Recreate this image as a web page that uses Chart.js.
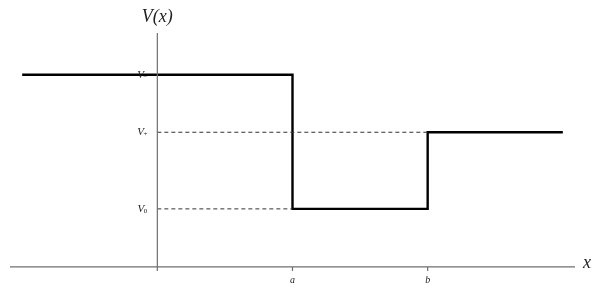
<!DOCTYPE html>
<html>
<head>
<meta charset="utf-8">
<script src="https://cdn.jsdelivr.net/npm/chart.js@4/dist/chart.umd.min.js"></script>
<style>
html,body{margin:0;padding:0;background:#fff;}
canvas{display:block;}
</style>
</head>
<body>
<canvas id="c" width="600" height="292"></canvas>
<script>
// ---- data ----
const regionEdges = [-1, 1, 2, 3];          // x: start, a, b, end
const regionLevels = [3.31, 1, 2.32];        // V-, V0, V+
const tickValues = [1, 2];
const tickLabels = ['a', 'b'];
const levelValues = [3.31, 2.32, 1];
const levelBase = ['V', 'V', 'V'];
const levelSubs = ['\u2212', '+', '0'];
const xRange = [-1.09, 3.09];
const yRange = [-0.07, 4.03];

// build step polyline
const stepPts = [];
for (let i = 0; i < regionLevels.length; i++) {
  stepPts.push({x: regionEdges[i], y: regionLevels[i]});
  stepPts.push({x: regionEdges[i + 1], y: regionLevels[i]});
}

const axisColor = '#6e6e6e';
const line = (pts, color, width, dash) => ({
  data: pts, showLine: true, borderColor: color, borderWidth: width,
  borderDash: dash || [], pointRadius: 0, fill: false, tension: 0
});

const datasets = [
  line([{x: xRange[0], y: 0}, {x: xRange[1], y: 0}], axisColor, 1.2),
  line([{x: 0, y: yRange[0]}, {x: 0, y: yRange[1]}], axisColor, 1.2),
  ...tickValues.map(v => line([{x: v, y: 0}, {x: v, y: yRange[0]}], axisColor, 1.2)),
  line([{x: 0, y: regionLevels[1]}, {x: regionEdges[1], y: regionLevels[1]}], '#333', 1, [4, 3]),
  line([{x: 0, y: regionLevels[2]}, {x: regionEdges[2], y: regionLevels[2]}], '#333', 1, [4, 3]),
  line(stepPts, '#000', 2.4)
];

const SERIF = '"Liberation Serif", "DejaVu Serif", serif';
const textPlugin = {
  id: 'texts',
  afterDatasetsDraw(chart) {
    const ctx = chart.ctx, xs = chart.scales.x, ys = chart.scales.y;
    ctx.save();
    ctx.fillStyle = '#222';
    ctx.textBaseline = 'middle';
    // axis titles
    ctx.font = 'italic 18px ' + SERIF;
    ctx.textAlign = 'center';
    ctx.fillText('V(x)', xs.getPixelForValue(0), 17);
    ctx.textAlign = 'left';
    ctx.fillText('x', xs.getPixelForValue(xRange[1]) + 8, ys.getPixelForValue(0) - 4);
    // level labels
    levelValues.forEach((v, i) => {
      const py = ys.getPixelForValue(v);
      const px = xs.getPixelForValue(0) - 10;
      ctx.font = '7px ' + SERIF;
      const sw = ctx.measureText(levelSubs[i]).width;
      ctx.textAlign = 'left';
      ctx.fillText(levelSubs[i], px - sw, py + 2);
      ctx.font = 'italic 11px ' + SERIF;
      ctx.textAlign = 'right';
      ctx.fillText(levelBase[i], px - sw + 0.5, py);
    });
    // x tick labels
    ctx.font = 'italic 10px ' + SERIF;
    ctx.textAlign = 'center';
    tickValues.forEach((v, i) => {
      ctx.fillText(tickLabels[i], xs.getPixelForValue(v), ys.getPixelForValue(0) + 13);
    });
    ctx.restore();
  }
};

new Chart(document.getElementById('c'), {
  type: 'scatter',
  data: {datasets},
  options: {
    responsive: false,
    animation: false,
    layout: {padding: {left: 10, right: 25, top: 33, bottom: 21}},
    plugins: {legend: {display: false}, tooltip: {enabled: false}},
    scales: {
      x: {type: 'linear', min: xRange[0], max: xRange[1], display: false},
      y: {type: 'linear', min: yRange[0], max: yRange[1], display: false}
    }
  },
  plugins: [textPlugin]
});
</script>
</body>
</html>
